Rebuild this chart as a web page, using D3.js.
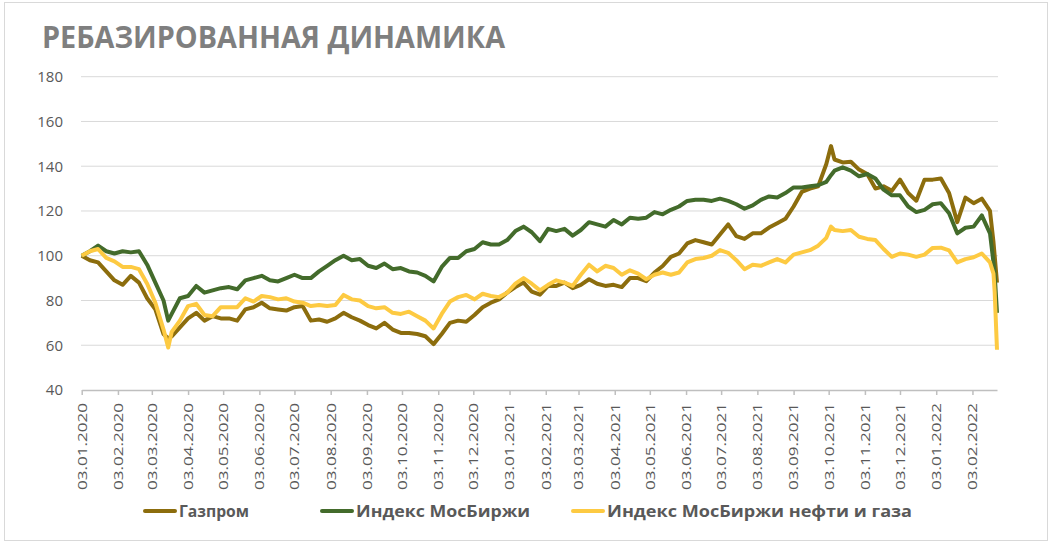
<!DOCTYPE html>
<html lang="ru">
<head>
    <meta charset="UTF-8">
    <title>Ребазированная динамика</title>
    <script src="https://cdn.jsdelivr.net/npm/d3@7/dist/d3.min.js"></script>
    <style>
        body { margin: 0; background: #fff; }
        text { font-family: "Open Sans", "Liberation Sans", sans-serif; }
    </style>
</head>
<body>
<svg id="main" width="1054" height="544"></svg>
<script>
    // weekly closes (rebased to 100 on 03.01.2020) + a few extra days around the spikes
    const dates = [
        "2020-01-03","2020-01-10","2020-01-17","2020-01-24","2020-01-31",
        "2020-02-07","2020-02-14","2020-02-21","2020-02-28",
        "2020-03-06","2020-03-13","2020-03-17","2020-03-20","2020-03-27",
        "2020-04-03","2020-04-10","2020-04-17","2020-04-24",
        "2020-05-01","2020-05-08","2020-05-15","2020-05-22","2020-05-29",
        "2020-06-05","2020-06-12","2020-06-19","2020-06-26",
        "2020-07-03","2020-07-10","2020-07-17","2020-07-24","2020-07-31",
        "2020-08-07","2020-08-14","2020-08-21","2020-08-28",
        "2020-09-04","2020-09-11","2020-09-18","2020-09-25",
        "2020-10-02","2020-10-09","2020-10-16","2020-10-23","2020-10-30",
        "2020-11-06","2020-11-13","2020-11-20","2020-11-27",
        "2020-12-04","2020-12-11","2020-12-18","2020-12-25",
        "2021-01-01","2021-01-08","2021-01-15","2021-01-22","2021-01-29",
        "2021-02-05","2021-02-12","2021-02-19","2021-02-26",
        "2021-03-05","2021-03-12","2021-03-19","2021-03-26",
        "2021-04-02","2021-04-09","2021-04-16","2021-04-23","2021-04-30",
        "2021-05-07","2021-05-14","2021-05-21","2021-05-28",
        "2021-06-04","2021-06-11","2021-06-18","2021-06-25",
        "2021-07-02","2021-07-09","2021-07-16","2021-07-23","2021-07-30",
        "2021-08-06","2021-08-13","2021-08-20","2021-08-27",
        "2021-09-03","2021-09-10","2021-09-17","2021-09-24",
        "2021-10-01","2021-10-05","2021-10-08","2021-10-15","2021-10-22","2021-10-29",
        "2021-11-05","2021-11-12","2021-11-19","2021-11-26",
        "2021-12-03","2021-12-10","2021-12-17","2021-12-24","2021-12-31",
        "2022-01-07","2022-01-14","2022-01-21","2022-01-28",
        "2022-02-04","2022-02-11","2022-02-18",
        "2022-02-21","2022-02-22","2022-02-24"
    ];

    const gazprom = [
        100, 98, 97, 93, 89,
        87, 91, 88, 81,
        76, 65, 63, 64, 68,
        72, 74.5, 71, 73,
        72, 72, 71, 76, 77,
        79, 76.5, 76, 75.5,
        77, 77.5, 71, 71.5, 70.5,
        72, 74.5, 72.5, 71,
        69, 67.5, 70, 67,
        65.5, 65.5, 65, 64, 60.5,
        65, 70, 71, 70.5,
        73.5, 77, 79, 80.5,
        83.5, 86, 88, 84, 82.6,
        86.5, 86.5, 88, 85.5,
        87, 89.5, 87.5, 86.5,
        87, 86, 90, 90, 88.6,
        92.5, 95.4, 99.5, 101,
        105.5, 107, 106, 105,
        109.5, 114, 108.8, 107.5, 110,
        110, 112.6, 114.5, 116.5,
        122, 128.5, 130, 131,
        141, 149, 143, 141.7, 142, 138.5,
        136.5, 130, 131, 129,
        134, 128, 124.6, 134, 134,
        134.5, 128, 115, 126,
        123.5, 125.5, 120,
        106, 100, 88
    ];

    const moex = [
        100, 102, 104.5, 102, 101,
        102, 101.5, 102, 96,
        88, 80, 71, 74, 81,
        82, 86.5, 83.5, 84.5,
        85.5, 86, 85, 89, 90,
        91, 89, 88.5, 90,
        91.5, 90, 90, 93, 95.5,
        98, 100, 98, 98.5,
        95.5, 94.5, 96.5, 94,
        94.5, 93, 92.5, 91, 88.5,
        95, 99, 99, 102,
        103, 106, 105, 105,
        107, 111, 113, 110.5, 106.5,
        112, 111, 112, 109,
        111.5, 115, 114, 113,
        116, 114, 117, 116.5, 117,
        119.5, 118.5, 120.5, 122,
        124.5, 125, 125, 124.5,
        125.5, 124.5, 123, 121, 122.5,
        125, 126.5, 126, 128,
        130.5, 130.5, 131, 131.5,
        133, 136, 138, 139.5, 138, 135.5,
        136.5, 134.5, 129.5, 127,
        127, 122, 119.5, 120.5, 123,
        123.5, 119, 110, 112.5,
        113, 118, 110,
        97, 92, 74.5
    ];

    const moexOilGas = [
        100, 102, 103, 99, 97.5,
        95, 95, 94, 87.5,
        79, 67, 59, 66, 71,
        77.5, 78.5, 73.5, 73,
        77, 77, 77, 81, 79.5,
        82, 81.5, 80.5, 81,
        79.5, 79, 77.5, 78, 77.5,
        78, 82.5, 80.5, 80,
        77.5, 76.5, 77, 74.5,
        74, 75, 73, 71, 67.5,
        74, 79.5, 81.5, 82.5,
        80.5, 83, 82, 81.5,
        83.5, 87.5, 90, 87.5, 84.5,
        87, 89, 88, 86.5,
        91.5, 96, 93, 95.5,
        94.5, 91.5, 93.5, 92, 89.5,
        91.5, 92.5, 91.5, 92.5,
        97, 98.5, 99, 100,
        102.5, 101.3, 98, 94, 96,
        95.5, 97, 98.5, 97,
        100.5, 101.5, 102.5, 104.5,
        108, 113, 111.5, 111, 111.5, 108.5,
        107.5, 107, 103, 99.5,
        101, 100.5, 99.5, 100.5, 103.5,
        103.6, 102.4, 97, 98.5,
        99.3, 101, 97,
        92, 84, 58
    ];

    const seriesNames = ["Газпром", "Индекс МосБиржи", "Индекс МосБиржи нефти и газа"];
    const lineColors = ["#8c6d0d", "#436b2b", "#fdca42"];

    const yTicks = [40, 60, 80, 100, 120, 140, 160, 180];
    const xTickLabels = [
        "2020-01-03","2020-02-03","2020-03-03","2020-04-03","2020-05-03","2020-06-03",
        "2020-07-03","2020-08-03","2020-09-03","2020-10-03","2020-11-03","2020-12-03",
        "2021-01-03","2021-02-03","2021-03-03","2021-04-03","2021-05-03","2021-06-03",
        "2021-07-03","2021-08-03","2021-09-03","2021-10-03","2021-11-03","2021-12-03",
        "2022-01-03","2022-02-03"
    ];

    const parse = d3.timeParse("%Y-%m-%d");
    const fmt = d3.timeFormat("%d.%m.%Y");

    let svg = d3.select("svg#main");

    // outer frame
    svg.append("rect")
        .attr("x", 4.5).attr("y", 2.5)
        .attr("width", 1043).attr("height", 538)
        .attr("fill", "#fff")
        .attr("stroke", "#d9d9d9");

    svg.append("text")
        .attr("x", 42).attr("y", 48)
        .attr("textLength", 463)
        .attr("lengthAdjust", "spacingAndGlyphs")
        .style("font-size", "31px")
        .style("font-weight", "bold")
        .style("fill", "#7f7f7f")
        .text("РЕБАЗИРОВАННАЯ ДИНАМИКА");

    let x = d3.scaleTime()
        .domain([parse("2020-01-03"), parse("2022-02-24")])
        .range([81.7, 997]);
    let y = d3.scaleLinear()
        .domain([40, 180])
        .range([390, 76.7]);

    // gridlines
    svg.append("g").selectAll("line").data(yTicks.slice(1))
        .enter().append("line")
        .attr("x1", 81).attr("x2", 998)
        .attr("y1", d => y(d)).attr("y2", d => y(d))
        .attr("stroke", "#d9d9d9")
        .attr("stroke-width", 1);

    // y axis labels
    let yAxis = svg.append("g")
        .attr("transform", "translate(81,0)")
        .call(d3.axisLeft(y).tickValues(yTicks).tickSize(0).tickPadding(18));
    yAxis.select(".domain").remove();
    yAxis.selectAll("text")
        .style("font-family", "'Open Sans', sans-serif")
        .style("font-size", "15px")
        .style("fill", "#595959");

    // x axis
    let xAxis = svg.append("g")
        .attr("transform", "translate(0," + y(40) + ")")
        .call(d3.axisBottom(x)
            .tickValues(xTickLabels.map(parse))
            .tickFormat(fmt)
            .tickSize(5)
            .tickSizeOuter(0));
    xAxis.select(".domain")
        .attr("stroke", "#bfbfbf")
        .attr("stroke-width", 1.5);
    xAxis.selectAll(".tick line")
        .attr("stroke", "#bfbfbf")
        .attr("stroke-width", 1.5);
    xAxis.selectAll("text")
        .attr("transform", "rotate(-90)")
        .attr("x", -13)
        .attr("y", 0)
        .attr("dy", "0.35em")
        .attr("text-anchor", "end")
        .attr("textLength", 87)
        .attr("lengthAdjust", "spacingAndGlyphs")
        .style("font-family", "'Open Sans', sans-serif")
        .style("font-size", "12.5px")
        .style("fill", "#595959");

    // lines
    const allSeries = [gazprom, moex, moexOilGas];
    const line = d3.line()
        .x((d, i) => x(parse(dates[i])))
        .y(d => y(d));

    allSeries.forEach((values, i) => {
        svg.append("path")
            .datum(values)
            .attr("d", line)
            .attr("fill", "none")
            .attr("stroke", lineColors[i])
            .attr("stroke-width", 4)
            .attr("stroke-linejoin", "round");
    });

    // legend
    const legendLineX = [145, 322, 573];
    const legendTextLen = [70, 174, 305];
    let legend = svg.selectAll(".lineLegend").data(seriesNames)
        .enter().append("g")
        .attr("class", "lineLegend")
        .attr("transform", (d, i) => "translate(" + legendLineX[i] + ",511)");

    legend.append("line")
        .attr("x1", 0).attr("x2", 30)
        .attr("y1", 0).attr("y2", 0)
        .attr("stroke", (d, i) => lineColors[i])
        .attr("stroke-width", 4)
        .attr("stroke-linecap", "round");

    legend.append("text")
        .attr("x", 34).attr("y", 0)
        .attr("dy", "0.36em")
        .attr("textLength", (d, i) => legendTextLen[i])
        .attr("lengthAdjust", "spacingAndGlyphs")
        .style("font-size", "16px")
        .style("font-weight", "bold")
        .style("fill", "#595959")
        .text(d => d);
</script>
</body>
</html>
